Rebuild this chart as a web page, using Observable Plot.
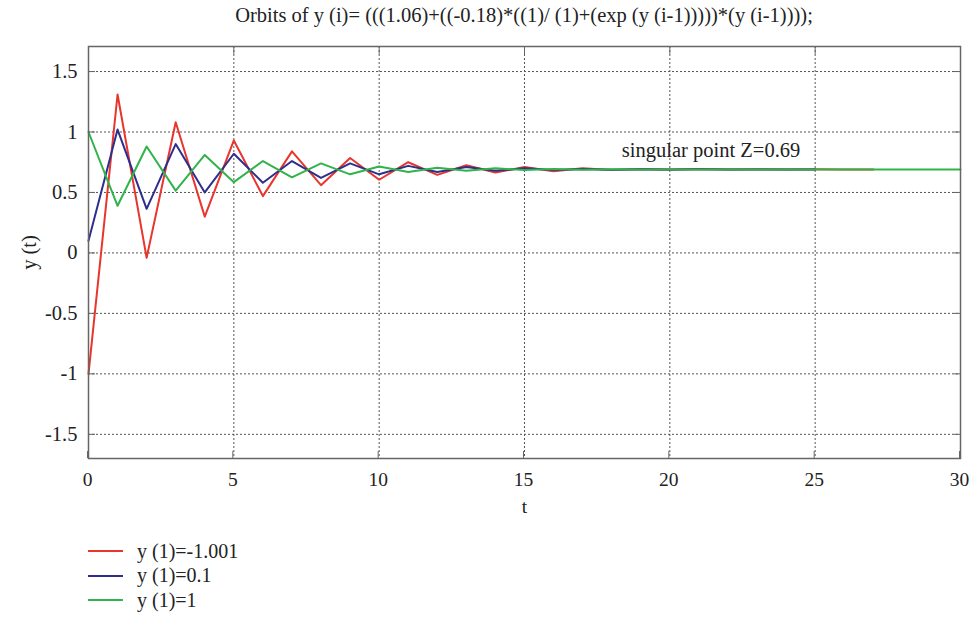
<!DOCTYPE html>
<html><head><meta charset="utf-8">
<script src="https://cdn.jsdelivr.net/npm/d3@7"></script>
<script src="https://cdn.jsdelivr.net/npm/@observablehq/plot@0.6"></script>
<style>
body{margin:0;background:#fff;font-family:"Liberation Serif",serif;color:#222;overflow:hidden;}
#title{height:32px;line-height:30px;font-size:20.5px;text-align:center;padding-left:88px;padding-right:9px;width:872px;white-space:nowrap;}
#chart svg{display:block;overflow:visible;}
#legend{margin-left:88px;margin-top:9px;}
.item{display:flex;align-items:center;height:24.5px;font-size:20px;}
.sw{width:35px;height:2px;margin-right:14px;}
</style></head><body>
<div id="title"></div>
<div id="chart"></div>
<div id="legend"></div>
<script>
const titleText = "Orbits of y (i)= (((1.06)+((-0.18)*((1)/ (1)+(exp (y (i-1)))))*(y (i-1))));";
const xTicks = [0, 5, 10, 15, 20, 25, 30];
const yTicks = [-1.5, -1, -0.5, 0, 0.5, 1, 1.5];
const seriesNames = ["y (1)=-1.001", "y (1)=0.1", "y (1)=1"];
const seriesColors = ["#e8352d", "#2e2f8c", "#2fb34a"];
const redValues = [-1.0, 1.31, -0.04, 1.08, 0.30, 0.93, 0.47, 0.84, 0.56, 0.785, 0.605, 0.75, 0.645, 0.725, 0.665, 0.71, 0.675, 0.70, 0.685, 0.695, 0.688, 0.693, 0.69, 0.692, 0.69, 0.691, 0.69, 0.69];
const blueValues = [0.1, 1.02, 0.365, 0.90, 0.50, 0.82, 0.58, 0.76, 0.62, 0.74, 0.65, 0.72, 0.67, 0.71, 0.68, 0.70, 0.685, 0.695, 0.688, 0.692, 0.69, 0.691, 0.69, 0.69, 0.69, 0.69];
const greenValues = [1.0, 0.39, 0.88, 0.515, 0.81, 0.585, 0.76, 0.625, 0.74, 0.65, 0.715, 0.67, 0.705, 0.68, 0.70, 0.685, 0.695, 0.688, 0.692, 0.69, 0.69, 0.69, 0.69, 0.69, 0.69, 0.69, 0.69, 0.69, 0.69, 0.69, 0.69];
const annotation = [{t: 18.35, y: 0.845, text: "singular point Z=0.69"}];

const allSeries = [redValues, blueValues, greenValues];
const rows = allSeries.flatMap((vals, si) => vals.map((v, i) => ({t: i, y: v, s: seriesNames[si]})));

document.getElementById("title").textContent = titleText;

const fmt = d => String(d);
const axisStyle = {stroke: "#666", fill: "#222"};
const chart = Plot.plot({
  width: 969, height: 498,
  marginLeft: 88, marginRight: 9, marginTop: 14, marginBottom: 72,
  style: {fontFamily: "Liberation Serif", fontSize: "20.5px", color: "#222", background: "#fff", overflow: "visible"},
  x: {domain: [0, 30]},
  y: {domain: [-1.7, 1.707]},
  color: {domain: seriesNames, range: seriesColors},
  marks: [
    Plot.gridX(xTicks, {stroke: "#555", strokeOpacity: 1, strokeDasharray: "2,2"}),
    Plot.gridY(yTicks, {stroke: "#555", strokeOpacity: 1, strokeDasharray: "2,2"}),
    Plot.lineY(rows, {x: "t", y: "y", z: "s", stroke: "s", strokeWidth: 2}),
    Plot.text(annotation, {x: "t", y: "y", text: "text", textAnchor: "start", fontSize: 20.5, fill: "#222"}),
    Plot.frame({stroke: "#666", strokeWidth: 1.5}),
    Plot.axisX(xTicks, {anchor: "bottom", tickSize: -7, tickPadding: 21, tickFormat: fmt, fontSize: 19.5, dx: -1, ...axisStyle, label: "t", labelAnchor: "center", labelArrow: "none", labelOffset: 54}),
    Plot.axisX(xTicks, {anchor: "top", tickSize: -7, tickFormat: () => "", label: null, stroke: "#666"}),
    Plot.axisY(yTicks, {anchor: "left", tickSize: -7, tickPadding: 18, tickFormat: fmt, fontSize: 20.5, ...axisStyle, label: "y (t)", labelAnchor: "center", labelArrow: "none", labelOffset: 67}),
    Plot.axisY(yTicks, {anchor: "right", tickSize: -7, tickFormat: () => "", label: null, stroke: "#666"})
  ]
});
document.getElementById("chart").appendChild(chart);

const legend = document.getElementById("legend");
seriesNames.forEach((name, i) => {
  const item = document.createElement("div");
  item.className = "item";
  const sw = document.createElement("span");
  sw.className = "sw";
  sw.style.background = seriesColors[i];
  const lab = document.createElement("span");
  lab.textContent = name;
  item.appendChild(sw); item.appendChild(lab);
  legend.appendChild(item);
});
</script>
</body></html>
